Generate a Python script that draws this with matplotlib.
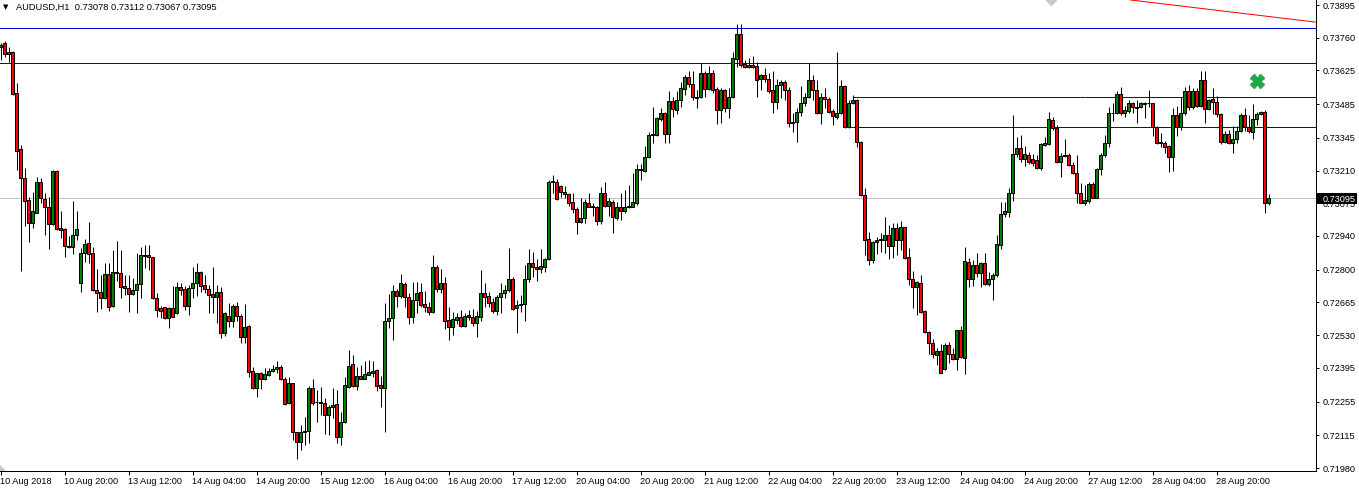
import numpy as np
import matplotlib
matplotlib.use('Agg')
import matplotlib.pyplot as plt
from matplotlib.transforms import blended_transform_factory
from matplotlib.patches import Rectangle, Polygon

plt.rcParams['font.family'] = ['Liberation Sans', 'DejaVu Sans']

# ---------------- data (prices in 1e-5 units) ----------------
title_text = 'AUDUSD,H1  0.73078 0.73112 0.73067 0.73095'

open_pts = [
73723,73737,73693,73702,73530,73298,73178,73089,72992,73036,73164,73091,73058,72988,73209,72971,72970,72898,72896,72944,
72744,72871,72909,72868,72716,72707,72682,72781,72650,72792,72785,72733,72723,72700,72716,72740,72857,72860,72851,72682,
72640,72645,72599,72640,72620,72727,72719,72650,72723,72744,72792,72736,72719,72700,72686,72708,72537,72609,72589,72650,
72609,72520,72567,72381,72310,72371,72347,72365,72383,72388,72396,72349,72247,72330,72127,72089,72127,72134,72310,72254,
72254,72250,72199,72231,72245,72107,72172,72316,72410,72319,72361,72349,72366,72371,72385,72323,72312,72588,72599,72712,
72691,72741,72689,72606,72675,72708,72658,72647,72627,72813,72719,72747,72592,72562,72592,72603,72567,72606,72606,72581,
72606,72703,72691,72668,72631,72686,72703,72716,72760,72640,72653,72657,72760,72829,72810,72802,72813,72843,73164,73164,
73147,73123,73112,73080,73050,72999,73013,73075,73064,73058,73003,73119,73064,73082,73013,73058,73044,73058,73061,73075,
73213,73210,73265,73358,73358,73422,73447,73362,73498,73461,73502,73546,73596,73569,73509,73513,73615,73546,73615,73546,
73461,73544,73468,73513,73671,73775,73651,73640,73646,73643,73588,73606,73588,73544,73495,73564,73578,73544,73413,73413,
73454,73489,73513,73585,73544,73447,73516,73505,73458,73431,73447,73560,73389,73489,73502,73330,73109,72926,72840,72916,
72923,72923,72944,72898,72971,72923,72976,72851,72760,72730,72744,72631,72544,72496,72447,72465,72388,72489,72452,72430,
72551,72434,72833,72760,72820,72788,72827,72741,72760,72778,72902,73029,73040,73116,73277,73302,73257,73275,73257,73254,
73220,73316,73320,73420,73385,73247,73272,73275,73234,73202,73116,73075,73084,73155,73098,73215,73275,73326,73450,73447,
73527,73447,73458,73489,73472,73472,73489,73489,73489,73392,73330,73326,73312,73268,73440,73389,73447,73541,73472,73541,
73477,73585,73464,73505,73495,73444,73330,73362,73326,73340,73375,73440,73392,73371,73424,73444,73453,73078]

high_pts = [
73739,73748,73723,73706,73574,73316,73220,73102,73123,73185,73178,73116,73102,73213,73213,73043,72971,72940,73086,73043,
72889,72926,72999,72896,72802,72778,72829,72827,72882,72920,72882,72778,72778,72765,72871,72893,72902,72902,72854,72703,
72650,72647,72647,72733,72751,72747,72733,72737,72813,72827,72796,72778,72737,72813,72737,72727,72627,72661,72658,72668,
72617,72658,72571,72399,72374,72378,72392,72392,72406,72424,72406,72355,72358,72333,72130,72158,72192,72319,72349,72303,
72316,72268,72241,72310,72303,72213,72358,72468,72447,72399,72406,72424,72427,72424,72388,72361,72661,72700,72737,72719,
72782,72751,72703,72751,72751,72747,72713,72668,72861,72820,72802,72769,72645,72627,72623,72634,72620,72634,72636,72631,
72799,72744,72709,72682,72696,72747,72737,72889,72771,72675,72696,72820,72885,72875,72843,72885,72847,73171,73192,73174,
73151,73147,73119,73119,73061,73096,73091,73116,73078,73064,73141,73164,73096,73089,73082,73119,73130,73151,73199,73238,
73238,73312,73371,73472,73433,73468,73453,73538,73516,73541,73578,73606,73624,73620,73544,73657,73624,73643,73626,73555,
73551,73546,73551,73702,73817,73817,73668,73675,73684,73661,73610,73633,73615,73624,73588,73585,73585,73555,73447,73468,
73560,73533,73657,73606,73585,73533,73551,73513,73464,73702,73585,73564,73502,73523,73505,73334,73137,72958,72920,72934,
72951,73020,72984,72995,72992,73003,72978,72889,72796,72755,72778,72634,72548,72512,72475,72493,72496,72503,72475,72551,
72567,72893,72847,72840,72871,72833,72868,72792,72788,72944,73082,73082,73137,73440,73348,73358,73312,73289,73279,73275,
73326,73351,73454,73433,73399,73284,73340,73282,73247,73275,73160,73151,73164,73164,73220,73284,73358,73472,73489,73541,
73557,73477,73502,73495,73502,73495,73495,73544,73491,73395,73367,73334,73316,73468,73477,73516,73555,73564,73551,73551,
73624,73620,73505,73551,73519,73447,73375,73378,73395,73395,73450,73468,73440,73486,73454,73458,73461,73112]

low_pts = [
73668,73682,73661,73523,73213,72796,72981,72916,72971,73033,73075,72944,72885,72985,72965,72930,72854,72889,72865,72923,
72709,72833,72827,72713,72627,72636,72678,72631,72647,72755,72682,72696,72627,72696,72623,72682,72806,72799,72679,72606,
72599,72595,72558,72603,72617,72696,72634,72613,72682,72691,72709,72703,72623,72620,72578,72516,72526,72565,72565,72589,
72496,72496,72355,72305,72272,72305,72344,72361,72378,72374,72344,72241,72245,72096,72016,72054,72075,72082,72241,72172,
72199,72121,72116,72185,72082,72075,72165,72310,72314,72303,72347,72347,72365,72358,72300,72234,72130,72558,72509,72647,
72682,72647,72576,72578,72623,72647,72627,72613,72620,72709,72703,72554,72509,72530,72576,72565,72562,72592,72567,72520,
72589,72647,72645,72623,72613,72620,72682,72709,72634,72540,72627,72589,72751,72771,72755,72788,72792,72840,73119,73089,
73100,73096,73064,73033,72948,72992,72992,73058,73022,72985,72989,73061,73022,72953,73006,73006,73033,73054,73058,73068,
73171,73204,73261,73323,73353,73417,73326,73326,73433,73444,73475,73523,73555,73502,73468,73509,73513,73544,73533,73403,
73409,73454,73426,73509,73640,73640,73633,73633,73633,73513,73544,73578,73530,73450,73464,73509,73502,73392,73371,73330,
73436,73477,73509,73502,73444,73403,73468,73450,73399,73422,73444,73385,73385,73486,73309,73105,72861,72820,72829,72865,
72875,72868,72843,72847,72861,72882,72843,72737,72640,72613,72623,72537,72452,72434,72406,72371,72385,72413,72427,72385,
72434,72369,72727,72733,72771,72727,72737,72733,72675,72769,72885,73020,73020,73086,73268,73247,73229,73238,73229,73215,
73213,73312,73316,73378,73240,73185,73265,73229,73196,73075,73075,73068,73075,73096,73096,73192,73268,73309,73417,73444,
73440,73431,73447,73447,73406,73468,73426,73475,73353,73320,73309,73282,73206,73210,73353,73378,73440,73461,73464,73475,
73472,73406,73461,73444,73433,73320,73323,73320,73284,73323,73371,73375,73367,73340,73399,73440,73036,73067]

close_pts = [
73730,73693,73700,73527,73293,73178,73086,72992,73043,73164,73096,73058,72988,73209,72967,72965,72900,72893,72942,72967,
72871,72907,72865,72716,72705,72682,72781,72645,72792,72785,72730,72723,72700,72716,72740,72860,72860,72851,72682,72634,
72631,72599,72640,72606,72727,72716,72650,72723,72744,72792,72733,72719,72697,72686,72708,72537,72620,72589,72650,72609,
72520,72565,72378,72310,72371,72347,72369,72381,72388,72396,72347,72245,72330,72127,72089,72127,72134,72310,72250,72253,
72247,72199,72234,72241,72107,72172,72323,72402,72319,72361,72349,72369,72377,72383,72319,72312,72588,72602,72712,72691,
72744,72689,72606,72675,72705,72654,72645,72627,72813,72719,72747,72589,72562,72595,72603,72567,72609,72611,72581,72609,
72703,72689,72664,72631,72686,72703,72716,72760,72636,72653,72657,72760,72829,72810,72802,72816,72843,73164,73167,73091,
73123,73112,73078,73050,72999,73013,73080,73061,73058,73003,73116,73064,73086,73017,73058,73044,73061,73064,73080,73215,
73218,73265,73358,73362,73426,73447,73362,73498,73464,73502,73551,73596,73569,73516,73516,73615,73546,73615,73544,73461,
73544,73468,73513,73675,73775,73647,73640,73646,73640,73585,73606,73588,73541,73495,73564,73578,73544,73409,73409,73454,
73489,73513,73585,73544,73447,73516,73505,73454,73436,73447,73560,73389,73489,73502,73330,73109,72923,72840,72916,72923,
72929,72944,72898,72971,72923,72976,72847,72760,72730,72751,72627,72544,72496,72452,72465,72374,72489,72452,72430,72551,
72438,72836,72760,72820,72788,72827,72741,72760,72778,72907,73029,73044,73119,73277,73302,73257,73277,73247,73243,73220,
73320,73326,73422,73385,73247,73272,73275,73234,73199,73116,73078,73089,73155,73098,73215,73275,73326,73450,73447,73527,
73447,73461,73489,73472,73471,73489,73487,73490,73392,73323,73323,73309,73268,73440,73389,73447,73541,73472,73541,73477,
73585,73464,73502,73495,73444,73330,73362,73326,73340,73375,73440,73392,73375,73424,73444,73453,73075,73095]

x_label_bars = [0, 16, 32, 48, 64, 80, 96, 112, 128, 144, 160, 176, 192, 208, 224, 240, 256, 272, 288, 304]
x_labels = ['10 Aug 2018', '10 Aug 20:00', '13 Aug 12:00', '14 Aug 04:00', '14 Aug 20:00',
            '15 Aug 12:00', '16 Aug 04:00', '16 Aug 20:00', '17 Aug 12:00', '20 Aug 04:00',
            '20 Aug 20:00', '21 Aug 12:00', '22 Aug 04:00', '22 Aug 20:00', '23 Aug 12:00',
            '24 Aug 04:00', '24 Aug 20:00', '27 Aug 12:00', '28 Aug 04:00', '28 Aug 20:00']
y_labels = ['0.73895', '0.73760', '0.73625', '0.73485', '0.73345', '0.73210', '0.73075',
            '0.72940', '0.72800', '0.72665', '0.72530', '0.72395', '0.72255', '0.72115', '0.71980']

full_levels = [0.73799, 0.73654]
partial_level_prices = [0.73516, 0.73513, 0.73389]
partial_level_start = [213, 271, 212]
partial_level_end = [271, None, None]
bid_price = 0.73095
bid_label = '0.73095'
trend_bars = [282.4, 328.9]
trend_prices = [0.73916, 0.73824]
close_mark_bar = 314.1
close_mark_price = 0.73581
top_mark_bar = 262.6
top_mark_price = 0.73916

# ---------------- figure ----------------
W, H = 1359, 491
fig = plt.figure(figsize=(W / 100, H / 100), dpi=100)
fig.patch.set_facecolor('white')
ax = fig.add_axes([0, 20 / H, 1316 / W, 471 / H])
ax.set_facecolor('white')

o = np.array(open_pts) / 1e5
h = np.array(high_pts) / 1e5
l = np.array(low_pts) / 1e5
c = np.array(close_pts) / 1e5
n = len(o)
x = np.arange(n)

ax.set_xlim(-0.125, 328.875)
ax.set_ylim(0.719676, 0.739157)

lw1 = 0.72
# level lines
for p in full_levels:
    ax.axhline(p, color='#0000DD', lw=lw1, zorder=1)
for p, s, e in zip(partial_level_prices, partial_level_start, partial_level_end):
    ax.hlines(p, s, 330 if e is None else e, color='#0000DD', lw=lw1, zorder=1)
ax.axhline(bid_price, color='#C0C0C0', lw=lw1, zorder=1)
ax.plot(trend_bars, trend_prices, color='red', lw=lw1, zorder=1)

# candles
ax.vlines(x, l, h, color='black', lw=lw1, zorder=2)
up = c >= o
body_bottom = np.minimum(o, c)
body_h = np.maximum(np.abs(c - o), 1e-7)
ax.bar(x[up], body_h[up], bottom=body_bottom[up], width=0.58, color='#008000',
       edgecolor='black', linewidth=lw1, zorder=3)
ax.bar(x[~up], body_h[~up], bottom=body_bottom[~up], width=0.58, color='#FF0000',
       edgecolor='black', linewidth=lw1, zorder=3)

# markers
ax.plot([close_mark_bar], [close_mark_price], marker='X', markersize=9.5,
        color='#22A84A', markeredgecolor='#22A84A', linestyle='none', zorder=4)
ax.plot([top_mark_bar], [top_mark_price], marker='D', markersize=4.8,
        color='#C8C8C8', markeredgecolor='#C8C8C8', linestyle='none', zorder=4)

# small grey triangle at bottom-left corner
ax.add_patch(Polygon([(0, 0), (0, 6 / 471), (6 / 1316, 0)], closed=True,
                     transform=ax.transAxes, facecolor='#C8C8C8', edgecolor='none', zorder=5))

# spines
for s in ['left', 'top']:
    ax.spines[s].set_visible(False)
for s in ['right', 'bottom']:
    ax.spines[s].set_linewidth(lw1)
    ax.spines[s].set_color('black')

# y axis on right
ax.yaxis.tick_right()
ax.set_yticks([float(s) for s in y_labels])
ax.set_yticklabels(y_labels)
ax.tick_params(axis='y', direction='out', length=2.2, width=lw1, pad=2.6,
               labelsize=6.6, colors='black')

# x axis
ax.set_xticks(x_label_bars)
ax.set_xticklabels(x_labels)
ax.tick_params(axis='x', direction='out', length=2.7, width=lw1, pad=1.3,
               labelsize=6.6, colors='black')
for t in ax.get_xticklabels():
    t.set_ha('left')

# bid price box
btr = blended_transform_factory(ax.transAxes, ax.transData)
half = 5.2 * 4.136e-5
ax.add_patch(Rectangle((1.0 + 1 / 1316, bid_price - half), 40 / 1316, 2 * half,
                       transform=btr, facecolor='black', edgecolor='none',
                       clip_on=False, zorder=10))
ax.text(1.0 + 7 / 1316, bid_price, bid_label, transform=btr, color='white',
        fontsize=6.6, va='center_baseline', ha='left', clip_on=False, zorder=11)

# title
fig.text(3 / W, 1 - 7.5 / H, '\u25BC', fontsize=5, family='DejaVu Sans',
         va='center', ha='left', color='black')
fig.text(16 / W, 1 - 7.5 / H, title_text, fontsize=6.7, va='center', ha='left',
         color='black')

fig.savefig('out.png', dpi=100, facecolor='white')
